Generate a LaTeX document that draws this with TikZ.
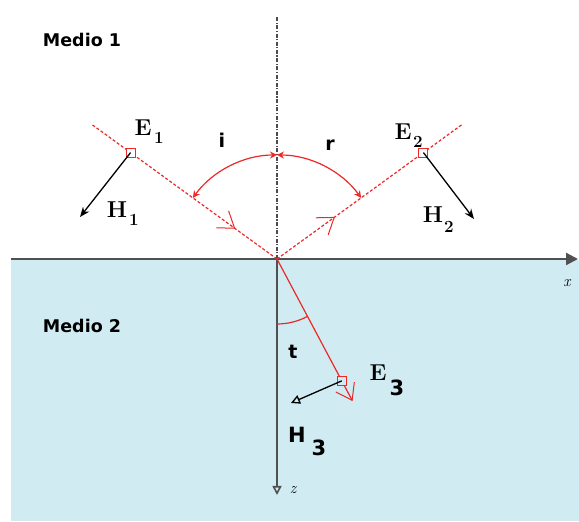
\documentclass[tikz,border=0pt]{standalone}
\usepackage{fontspec}
\setsansfont{DejaVu Sans}
\usepackage{tikz}
\usetikzlibrary{arrows.meta, calc, decorations.markings}
\definecolor{RayRed}{RGB}{236, 40, 40}
\definecolor{WaterBlue}{RGB}{208, 236, 242}
\definecolor{AxisGray}{RGB}{80, 80, 80}

\tikzset{
  vecsq/.style={draw=RayRed, line width=1pt, minimum size=9pt, inner sep=0pt},
  raydash/.style={RayRed, dash pattern=on 3pt off 2pt, line width=1.2pt},
  raybarb/.style={postaction={decorate, decoration={markings,
      mark=at position #1 with {\draw[solid, RayRed, line width=1pt] (-15pt,10.5pt) -- (0,0) -- (-15pt,-10.5pt);}}}},
  anglearc/.style={RayRed, line width=1.2pt, {Stealth[open, length=7pt, width=7pt]}-{Stealth[open, length=7pt, width=7pt]}},
  hvec/.style={black, line width=1.3pt, -{Stealth[length=10pt, width=8pt]}},
  serlab/.style={inner sep=0pt, font=\fontsize{23}{23}\selectfont\bfseries},
  sublab/.style={inner sep=0pt, font=\fontsize{17}{17}\selectfont\bfseries},
  sanslab/.style={inner sep=0pt, font=\fontsize{19}{19}\selectfont\sffamily\bfseries},
  bigsub/.style={inner sep=0pt, font=\fontsize{21}{21}\selectfont\sffamily\bfseries},
  medlab/.style={inner sep=0pt, font=\fontsize{17.5}{17.5}\selectfont\sffamily\bfseries},
  axlab/.style={inner sep=0pt, font=\fontsize{16}{16}\selectfont\itshape}
}

\begin{document}
\begin{tikzpicture}[x=1pt, y=1pt]
    \useasboundingbox (0,0) rectangle (579,522);

    % Medio 2
    \fill[WaterBlue] (11,1) rectangle (579,262);

    % points
    \coordinate (O) at (277,263);
    \coordinate (inStart) at ($(O)+(144:228)$);
    \coordinate (reEnd) at ($(O)+(36:228)$);
    \coordinate (trEnd) at ($(O)+(-62:160)$);
    \coordinate (normTop) at (277,505);
    \coordinate (zTip) at (277,27);
    \coordinate (xStart) at (11,263);
    \coordinate (xTip) at (578,263);

    % normal and axes
    \draw[gray!60!black, line width=1.2pt, dash pattern=on 4pt off 1.5pt on 1.2pt off 1.5pt] (O) -- (normTop);
    \draw[AxisGray, line width=1.6pt, -{Triangle[open, length=9pt, width=9pt]}] (O) -- (zTip);
    \draw[AxisGray, line width=2.2pt, -{Triangle[length=12pt, width=12pt]}] (xStart) -- (xTip);
    \node[axlab] (xlab) at (567,239) {x};
    \node[axlab] (zlab) at (293,32) {z};

    % rays
    \draw[raydash, raybarb=0.77] (inStart) -- (O);
    \draw[raydash, raybarb=0.31] (O) -- (reEnd);
    \draw[RayRed, line width=1.2pt, raybarb=1] (O) -- (trEnd);

    % field squares
    \node[vecsq, fill=white] (E1) at ($(O)+(144:181)$) {};
    \node[vecsq, fill=white] (E2) at ($(O)+(36:181)$) {};
    \node[vecsq, fill=WaterBlue] (E3) at ($(O)+(-62:138)$) {};

    % H vectors
    \coordinate (H1tip) at (80,305);
    \coordinate (H2tip) at (474,303);
    \coordinate (H3tip) at (291,119);
    \draw[hvec] (E1.center) -- (H1tip);
    \draw[hvec] (E2.center) -- (H2tip);
    \draw[black, line width=1.3pt, -{Triangle[open, length=9pt, width=9pt]}] (E3.center) -- (H3tip);

    % angles
    \coordinate (iA) at ($(O)+(144:104)$);
    \coordinate (rA) at ($(O)+(36:104)$);
    \coordinate (tA) at ($(O)+(-90:65)$);
    \draw[anglearc] (iA) arc[start angle=144, end angle=90, radius=104];
    \draw[anglearc] (rA) arc[start angle=36, end angle=90, radius=104];
    \draw[RayRed, line width=1.2pt] (tA) arc[start angle=-90, end angle=-62, radius=65];
    \node[sanslab] (ilab) at (222,382) {i};
    \node[sanslab] (rlab) at (330,377) {r};
    \node[sanslab] (tlab) at (293,170) {t};

    % labels
    \node[medlab] (m1) at (82,482) {Medio 1};
    \node[medlab] (m2) at (82,196) {Medio 2};
    \node[serlab] (E1lab) at (143,394) {E};
    \node[sublab] (E1sub) at (159,384) {1};
    \node[serlab] (H1lab) at (117,312) {H};
    \node[sublab] (H1sub) at (134,302) {1};
    \node[serlab] (E2lab) at (403,390) {E};
    \node[sublab] (E2sub) at (418,380) {2};
    \node[serlab] (H2lab) at (433,307) {H};
    \node[sublab] (H2sub) at (449,295) {2};
    \node[serlab] (E3lab) at (378,149) {E};
    \node[bigsub] (E3sub) at (397,134) {3};
    \node[bigsub] (H3lab) at (297,87) {H};
    \node[bigsub] (H3sub) at (319,74) {3};
\end{tikzpicture}
\end{document}
